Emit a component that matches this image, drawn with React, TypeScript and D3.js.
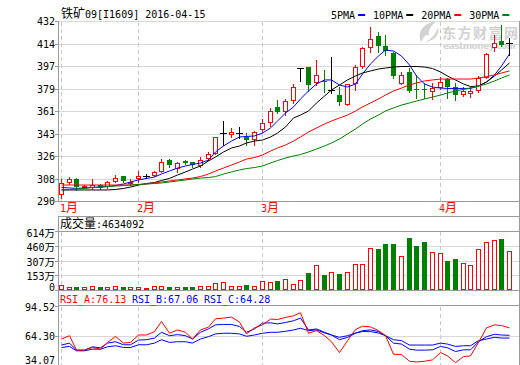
import React, { useRef, useEffect } from "react";
import * as d3 from "d3";

// trading days shown (2016)
const dates = [
  "01-18", "01-19", "01-20", "01-21", "01-22", "01-25", "01-26", "01-27", "01-28", "01-29",
  "02-01", "02-02", "02-03", "02-04", "02-05", "02-15", "02-16", "02-17", "02-18", "02-19",
  "02-22", "02-23", "02-24", "02-25", "02-26", "02-29",
  "03-01", "03-02", "03-03", "03-04", "03-07", "03-08", "03-09", "03-10", "03-11", "03-14",
  "03-15", "03-16", "03-17", "03-18", "03-21", "03-22", "03-23", "03-24", "03-25", "03-28",
  "03-29", "03-30", "03-31",
  "04-01", "04-05", "04-06", "04-07", "04-08", "04-11", "04-12", "04-13", "04-14", "04-15",
];

const opens = [
  295.3, 304.8, 307.4, 301.0, 300.8, 302.6, 301.8, 306.0, 309.5, 304.0,
  307.9, 309.7, 310.5, 313.9, 322.4, 316.3, 321.6, 320.5, 318.4, 323.7,
  327.6, 343.4, 342.6, 343.4, 340.7, 338.7, 346.6, 352.1, 364.4, 361.2,
  369.7, 395.2, 395.5, 384.1, 384.7, 377.6, 373.6, 366.3, 382.9, 396.5,
  411.2, 420.2, 412.3, 406.5, 383.3, 392.0, 378.5, 378.5, 377.0, 379.7,
  386.0, 379.7, 374.4, 375.0, 377.6, 388.1, 411.2, 416.5, 414.9,
];
const highs = [
  307.4, 309.2, 307.9, 302.5, 307.4, 303.2, 305.5, 310.5, 310.0, 307.0,
  313.7, 311.5, 314.0, 322.9, 323.2, 321.0, 322.3, 321.0, 324.5, 328.9,
  340.5, 353.3, 347.4, 348.6, 343.4, 345.5, 354.5, 363.1, 369.7, 370.5,
  382.3, 395.2, 395.5, 401.2, 393.3, 403.8, 380.2, 382.5, 397.3, 411.7,
  427.5, 423.6, 421.0, 407.8, 392.0, 394.7, 389.4, 382.9, 382.9, 387.6,
  387.0, 382.9, 379.7, 379.7, 388.6, 407.0, 421.0, 428.8, 418.3,
];
const lows = [
  292.6, 303.2, 298.7, 300.0, 299.5, 299.2, 300.2, 305.2, 305.0, 303.0,
  305.0, 307.9, 309.5, 313.1, 317.1, 313.1, 319.0, 316.5, 317.1, 322.3,
  327.0, 334.0, 340.2, 339.5, 334.2, 334.2, 344.7, 349.0, 359.2, 357.8,
  367.3, 384.9, 377.0, 381.5, 376.3, 374.9, 366.0, 365.5, 377.6, 394.7,
  407.8, 407.8, 405.2, 386.8, 382.3, 376.2, 371.0, 371.0, 370.2, 378.5,
  371.0, 369.7, 372.5, 371.8, 376.2, 387.0, 408.6, 412.0, 405.2,
];
const closes = [
  304.0, 307.4, 300.9, 301.5, 302.6, 300.0, 304.8, 308.4, 305.8, 305.0,
  309.7, 309.7, 313.1, 321.0, 318.4, 319.7, 319.8, 318.4, 322.3, 326.9,
  340.2, 343.4, 344.7, 343.4, 338.1, 344.7, 351.3, 361.2, 360.4, 369.1,
  379.6, 395.2, 381.8, 389.4, 383.7, 377.6, 368.3, 382.0, 395.5, 410.5,
  417.5, 412.5, 408.6, 388.6, 389.4, 377.0, 378.0, 377.5, 379.2, 384.1,
  379.7, 373.6, 377.0, 377.0, 386.8, 406.0, 414.4, 413.1, 414.9,
];

// volume in 万
const volumes = [
  49, 35, 28, 28, 38, 28, 28, 42, 28, 28,
  28, 21, 38, 42, 28, 28, 28, 28, 42, 42,
  73, 87, 42, 42, 52, 42, 94, 83, 97, 115,
  62, 104, 180, 260, 156, 191, 167, 191, 271, 271,
  441, 427, 482, 482, 354, 545, 461, 503, 396, 385,
  302, 323, 281, 260, 427, 500, 520, 534, 406,
];

const ma5 = [
  300.7, 300.3, 299.9, 300.3, 300.7, 301.0, 301.4, 302.2, 303.4, 305.0,
  306.6, 307.8, 308.9, 311.3, 313.7, 316.0, 317.6, 318.8, 320.0, 322.3,
  328.7, 333.4, 337.3, 340.5, 340.9, 341.3, 343.6, 347.6, 353.1, 359.4,
  364.2, 370.5, 376.8, 382.3, 385.5, 385.5, 381.5, 379.9, 382.3, 390.2,
  398.1, 404.4, 409.1, 408.3, 404.4, 397.3, 388.6, 382.3, 379.9, 379.1,
  378.8, 378.8, 378.8, 378.8, 380.7, 383.9, 389.4, 396.5, 406.0,
];
const ma10 = [
  298.7, 298.7, 298.7, 298.7, 298.7, 298.7, 298.7, 299.1, 299.9, 301.0,
  302.6, 303.8, 304.6, 306.2, 307.8, 310.5, 312.9, 315.2, 317.6, 321.6,
  324.7, 328.7, 331.8, 333.4, 335.8, 337.3, 338.1, 340.5, 343.6, 348.4,
  355.5, 357.8, 361.0, 367.3, 372.8, 377.6, 381.5, 385.5, 388.6, 391.0,
  392.6, 394.1, 394.9, 395.7, 396.1, 396.1, 396.1, 395.7, 394.5, 391.8,
  388.6, 385.5, 382.3, 380.3, 380.7, 383.9, 388.6, 393.3, 398.9,
];
const ma20 = [
  302.6, 302.6, 302.6, 302.6, 302.6, 302.6, 302.6, 302.6, 302.6, 302.6,
  303.0, 303.4, 304.2, 305.0, 305.8, 306.6, 307.4, 308.1, 309.3, 311.3,
  313.7, 316.0, 318.4, 320.8, 323.1, 324.3, 326.3, 329.4, 331.8, 334.2,
  337.3, 340.5, 344.4, 347.6, 350.7, 353.1, 355.5, 357.8, 361.0, 364.2,
  367.3, 370.5, 373.6, 376.8, 379.1, 381.5, 383.1, 384.7, 385.5, 386.2,
  386.2, 386.2, 386.2, 386.2, 387.0, 388.2, 389.4, 391.0, 392.6,
];
const ma30 = [
  298.7, 299.1, 299.5, 299.9, 300.7, 301.0, 301.4, 301.8, 302.2, 302.6,
  303.0, 303.4, 303.8, 304.2, 305.0, 305.8, 306.6, 307.4, 308.1, 308.5,
  309.3, 311.3, 312.9, 314.5, 315.6, 316.4, 317.6, 320.0, 321.9, 323.9,
  325.5, 326.7, 328.7, 331.0, 333.4, 335.8, 338.9, 342.9, 346.8, 350.7,
  354.7, 357.8, 361.0, 363.4, 365.7, 367.3, 368.9, 370.5, 372.0, 373.6,
  375.2, 376.8, 378.0, 379.2, 380.7, 382.3, 384.7, 387.0, 389.4,
];

const rsiA = [
  60.7, 64.1, 49.3, 49.3, 52.0, 50.3, 57.2, 63.4, 56.5, 57.2,
  64.8, 64.8, 68.3, 78.7, 66.6, 70.0, 67.6, 60.7, 70.0, 72.8,
  81.4, 82.1, 83.2, 78.0, 65.9, 72.1, 75.2, 81.1, 80.7, 82.8,
  84.5, 87.6, 66.6, 69.3, 64.1, 57.9, 46.8, 58.9, 70.4, 73.8,
  73.1, 69.3, 64.1, 45.1, 44.8, 37.9, 37.2, 37.9, 39.3, 46.8,
  43.4, 36.5, 42.7, 43.4, 57.2, 72.1, 75.2, 74.5, 72.1,
];
const rsiB = [
  54.5, 56.5, 49.3, 49.3, 52.7, 51.7, 56.5, 57.9, 54.8, 54.8,
  59.6, 60.0, 61.7, 67.6, 64.1, 65.2, 64.1, 60.7, 67.6, 71.1,
  75.2, 75.6, 75.6, 73.5, 67.6, 71.1, 76.9, 77.3, 76.2, 77.6,
  79.4, 82.1, 70.0, 71.0, 67.6, 64.8, 60.0, 62.4, 66.6, 69.3,
  70.0, 68.3, 64.1, 56.5, 55.5, 50.3, 49.3, 49.3, 49.6, 53.1,
  51.7, 47.9, 49.6, 49.6, 57.9, 63.1, 65.5, 64.8, 64.5,
];
const rsiC = [
  52.0, 53.1, 48.6, 48.6, 50.3, 50.3, 52.7, 53.8, 52.0, 52.0,
  54.8, 54.8, 56.5, 60.0, 57.2, 57.9, 57.9, 56.5, 60.7, 63.1,
  65.9, 66.6, 66.6, 65.9, 63.5, 64.8, 66.6, 67.6, 67.6, 68.6,
  70.0, 71.7, 69.3, 70.0, 66.9, 64.8, 62.4, 64.1, 66.9, 68.3,
  68.3, 66.9, 64.1, 60.0, 59.0, 54.5, 54.5, 54.5, 54.5, 56.5,
  55.5, 53.1, 53.8, 53.8, 59.0, 60.7, 62.4, 61.7, 61.7,
];

const title = "铁矿09[I1609] 2016-04-15";
const volTitle = "成交量:4634092";
const maNames = ["5PMA", "10PMA", "20PMA", "30PMA"];
const maColors = ["#0000ff", "#000000", "#ff0000", "#008000"];
const rsiNames = ["RSI_A:76.13", "RSI_B:67.06", "RSI_C:64.28"];
const rsiColors = ["#ff0000", "#0000ff", "#0000ff"];
const priceTickLabels = ["290", "308", "326", "343", "361", "379", "397", "414", "432"];
const volTickLabels = ["0", "153万", "307万", "460万", "614万"];
const rsiTickLabels = ["34.07", "64.30", "94.52"];

const UP = "#ff0000";
const DOWN = "#008000";
const AXIS = "#9a9a9a";
const GRID = "#d8d8d8";
const MONO = "'DejaVu Sans Mono', 'Liberation Mono', monospace";
const CJK = "'Noto Sans CJK SC', sans-serif";

// text with CJK runs a bit larger, like the bitmap font of the original
function label(sel: any, x: number, y: number, str: string, color = "#000", anchor = "start", cjkSize = 12) {
  const t = sel
    .append("text")
    .attr("x", x)
    .attr("y", y + 3.5)
    .attr("text-anchor", anchor)
    .attr("fill", color)
    .style("white-space", "pre");
  const runs: { s: string; cjk: boolean }[] = [];
  for (const ch of str) {
    const cjk = /[\u3000-\u9fff\uff00-\uffef]/.test(ch);
    if (runs.length && runs[runs.length - 1].cjk === cjk) runs[runs.length - 1].s += ch;
    else runs.push({ s: ch, cjk });
  }
  runs.forEach((r) =>
    t
      .append("tspan")
      .attr("font-family", r.cjk ? CJK : MONO)
      .attr("font-size", r.cjk ? cjkSize : 10)
      .text(r.s)
  );
  return t;
}

const App = () => {
  const svgRef = useRef<SVGSVGElement>(null);

  useEffect(() => {
    document.body.style.margin = "0";
    const width = 520;
    const height = 365;
    const L = 58;
    const R = 519;

    const svg = d3.select(svgRef.current).attr("width", width).attr("height", height);
    svg.selectAll("*").remove();
    svg.append("rect").attr("width", width).attr("height", height).attr("fill", "#fff");

    const idx = d3.range(dates.length);
    const x = d3.scaleBand<number>().domain(idx).range([57, 513]);
    const cx = (i: number) => Math.round((x(i) as number) + x.bandwidth() / 2) + 0.5;

    const y = d3.scaleLinear().domain([290, 432]).range([201, 21]);
    const vy = d3.scaleLinear().domain([0, 614]).range([290, 231]);
    const ry = d3.scaleLinear().domain([34.07, 94.52]).range([365, 306]);

    const hline = (yy: number, x1: number, x2: number, color: string) =>
      svg.append("line").attr("x1", x1).attr("x2", x2).attr("y1", yy).attr("y2", yy)
        .attr("stroke", color).attr("shape-rendering", "crispEdges");
    const vline = (xx: number, y1: number, y2: number, color: string, dash?: string) =>
      svg.append("line").attr("x1", xx).attr("x2", xx).attr("y1", y1).attr("y2", y2)
        .attr("stroke", color).attr("stroke-dasharray", dash || null).attr("shape-rendering", "crispEdges");

    // watermark
    const wm = svg.append("g").attr("fill", "#d2d2d2");
    wm.append("path").attr("d", "M421,42 C417,32 423,23 437,21 C431,25 428,30 429,36 C426,33 424,37 421,42 Z");
    wm.append("path").attr("d", "M425,42 C430,40 436,35 438,27 C440,35 434,41 425,42 Z");
    wm.append("text").attr("x", 442).attr("y", 37.5).attr("font-family", CJK).attr("font-weight", "bold")
      .attr("font-size", 14).attr("textLength", 76).text("东方财富网");
    wm.append("text").attr("x", 443).attr("y", 49).attr("font-family", "'DejaVu Sans', sans-serif")
      .attr("font-weight", "bold").attr("font-size", 9).attr("textLength", 73).text("eastmoney.com");

    // month boundaries
    const monthStarts = idx.filter((i) => i === 0 || dates[i].slice(0, 2) !== dates[i - 1].slice(0, 2));

    // ---- price panel grid
    priceTickLabels.forEach((lab, k) => {
      const yy = Math.round(y(290 + (k * (432 - 290)) / 8)) + 0.5;
      if (k > 0) hline(yy, L, R, GRID);
      hline(yy, L - 3, L, AXIS);
      label(svg, L - 3, yy, lab, "#000", "end");
    });
    // ---- volume panel grid
    volTickLabels.forEach((lab, k) => {
      const yy = Math.round(vy((k * 614) / 4)) + 0.5;
      if (k > 0 && k < 4) hline(yy, L, R, GRID);
      hline(yy, L - 3, L, AXIS);
      label(svg, L - 3, Math.min(Math.max(yy + 1, 233.5), 287), lab, "#000", "end", 10.5);
    });
    // ---- rsi panel grid
    rsiTickLabels.forEach((lab, k) => {
      const yy = Math.round(ry(34.07 + (k * (94.52 - 34.07)) / 2)) + 0.5;
      if (k === 1) hline(yy, L, R, GRID);
      hline(yy, L - 3, L, AXIS);
      label(svg, L - 3, Math.min(Math.max(yy, 307), 360), lab, "#000", "end");
    });

    monthStarts.forEach((i) => {
      vline(cx(i), 22, 201, "#c8c8c8", "4,3");
      vline(cx(i), 232, 290, "#c8c8c8", "4,3");
      vline(cx(i), 307, 365, "#c8c8c8", "4,3");
      label(svg, cx(i) - 1.5, 208, `${+dates[i].slice(0, 2)}月`, UP);
    });

    // frames
    hline(21.5, L, R, GRID);
    hline(201.5, L, R + 1, AXIS);
    hline(216.5, L, R + 1, AXIS);
    hline(231.5, L, R + 1, AXIS);
    hline(290.5, L, R + 1, AXIS);
    hline(305.5, L, R + 1, AXIS);
    vline(L + 0.5, 21, 202, AXIS);
    vline(L + 0.5, 216, 291, AXIS);
    vline(L + 0.5, 291, 365, AXIS);
    vline(R + 0.5, 21, 365, AXIS);

    // ---- candles
    const cg = svg.append("g").attr("shape-rendering", "crispEdges");
    idx.forEach((i) => {
      const o = opens[i];
      const c = closes[i];
      const xc = cx(i);
      const yh = Math.round(y(highs[i]));
      const yl = Math.round(y(lows[i]));
      if (Math.abs(c - o) < 0.05) {
        const yc = Math.round(y(c)) + 0.5;
        cg.append("line").attr("x1", xc).attr("x2", xc).attr("y1", yh).attr("y2", yl + 1).attr("stroke", "#000");
        cg.append("line").attr("x1", xc - 3.5).attr("x2", xc + 3.5).attr("y1", yc).attr("y2", yc).attr("stroke", "#000");
      } else if (c > o) {
        const top = Math.round(y(c));
        const bot = Math.round(y(o));
        cg.append("line").attr("x1", xc).attr("x2", xc).attr("y1", yh).attr("y2", top).attr("stroke", UP);
        cg.append("line").attr("x1", xc).attr("x2", xc).attr("y1", bot + 1).attr("y2", yl + 1).attr("stroke", UP);
        cg.append("rect").attr("x", xc - 2).attr("y", top + 0.5).attr("width", 4)
          .attr("height", Math.max(bot - top, 1)).attr("fill", "#fff").attr("stroke", UP);
      } else {
        const top = Math.round(y(o));
        const bot = Math.round(y(c));
        cg.append("line").attr("x1", xc).attr("x2", xc).attr("y1", yh).attr("y2", yl + 1).attr("stroke", DOWN);
        cg.append("rect").attr("x", xc - 2.5).attr("y", top).attr("width", 5)
          .attr("height", Math.max(bot - top, 1)).attr("fill", DOWN);
      }
    });

    // ---- moving averages
    const line = d3.line<number>().x((_, i) => cx(i)).y((v) => y(v));
    [ma5, ma10, ma20, ma30].forEach((s, k) => {
      svg.append("path").attr("d", line(s)).attr("fill", "none").attr("stroke", maColors[k]).attr("stroke-width", 1);
    });

    // ---- volume bars
    const vg = svg.append("g").attr("shape-rendering", "crispEdges");
    idx.forEach((i) => {
      const xc = cx(i);
      const top = Math.round(vy(volumes[i]));
      if (closes[i] >= opens[i]) {
        vg.append("rect").attr("x", xc - 2).attr("y", top + 0.5).attr("width", 4)
          .attr("height", Math.max(289 - top, 1)).attr("fill", "#fff").attr("stroke", UP);
      } else {
        vg.append("rect").attr("x", xc - 2.5).attr("y", top).attr("width", 5)
          .attr("height", 290 - top).attr("fill", DOWN);
      }
    });

    // ---- rsi
    const rline = d3.line<number>().x((_, i) => cx(i)).y((v) => ry(v));
    [rsiC, rsiB, rsiA].forEach((s, k) => {
      svg.append("path").attr("d", rline(s)).attr("fill", "none")
        .attr("stroke", [rsiColors[2], rsiColors[1], rsiColors[0]][k]).attr("stroke-width", 1);
    });

    // ---- headers
    label(svg, 61, 14, title);
    let lx = 331;
    maNames.forEach((n, k) => {
      label(svg, lx, 15, n);
      lx += n.length * 6.02 + 3;
      svg.append("rect").attr("x", lx).attr("y", 14).attr("width", 7).attr("height", 2).attr("fill", maColors[k]);
      lx += 7 + 8;
    });
    label(svg, 60, 224, volTitle);
    rsiNames.forEach((n, k) => label(svg, 60 + k * 72, 299, n, rsiColors[k]));
  }, []);

  return <svg ref={svgRef} style={{ position: "absolute", left: 0, top: 0, display: "block" }} />;
};

export default App;
